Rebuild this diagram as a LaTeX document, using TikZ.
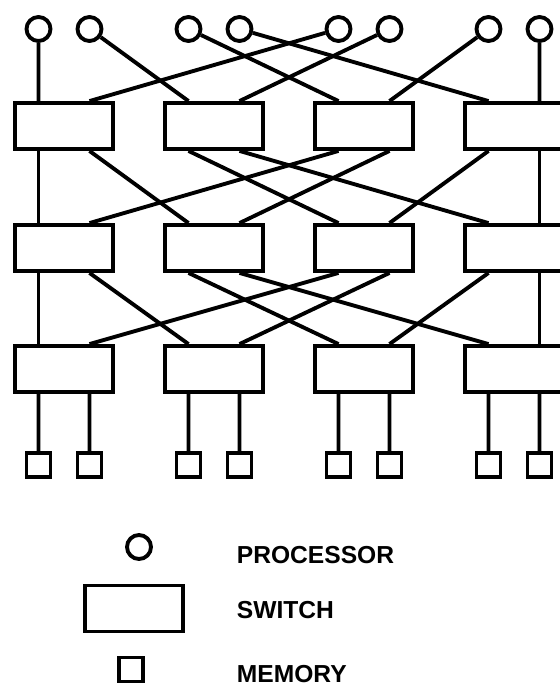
\documentclass[tikz,border=0pt]{standalone}
\usepackage{fontspec}
\setmainfont{Liberation Sans}
\begin{document}
\begin{tikzpicture}[
    x=0.02cm, y=-0.02cm,
    line width=2.2pt,
    proc/.style={
        draw, circle,
        minimum size=0.48cm,
        inner sep=0pt
    },
    switchbox/.style={
        draw,
        minimum width=1.96cm,
        minimum height=0.92cm,
        inner sep=0pt
    },
    membox/.style={draw, minimum size=0.48cm, inner sep=0pt},
    legendlabel/.style={font=\fontsize{14}{16}\selectfont\bfseries, anchor=west, inner sep=0pt}
]

% Frame of the picture (right column runs off the edge)
\useasboundingbox (0,0) rectangle (560,685);
\clip (0,0) rectangle (560,685);

% Processors
\node[proc] (p1) at (38.5,29) {};
\node[proc] (p2) at (89.5,29) {};
\node[proc] (p3) at (188.5,29) {};
\node[proc] (p4) at (239.5,29) {};
\node[proc] (p5) at (338.5,29) {};
\node[proc] (p6) at (389.5,29) {};
\node[proc] (p7) at (488.5,29) {};
\node[proc] (p8) at (539.5,29) {};

% Switches, three stages
\node[switchbox] (s11) at (64,126) {};
\node[switchbox] (s12) at (214,126) {};
\node[switchbox] (s13) at (364,126) {};
\node[switchbox] (s14) at (514,126) {};
\node[switchbox] (s21) at (64,248) {};
\node[switchbox] (s22) at (214,248) {};
\node[switchbox] (s23) at (364,248) {};
\node[switchbox] (s24) at (514,248) {};
\node[switchbox] (s31) at (64,369) {};
\node[switchbox] (s32) at (214,369) {};
\node[switchbox] (s33) at (364,369) {};
\node[switchbox] (s34) at (514,369) {};

% Memories
\node[membox] (m1) at (38.5,465) {};
\node[membox] (m2) at (89.5,465) {};
\node[membox] (m3) at (188.5,465) {};
\node[membox] (m4) at (239.5,465) {};
\node[membox] (m5) at (338.5,465) {};
\node[membox] (m6) at (389.5,465) {};
\node[membox] (m7) at (488.5,465) {};
\node[membox] (m8) at (539.5,465) {};

% Processors to first stage (perfect shuffle)
\draw (p1) -- ([xshift=-0.51cm]s11.north);
\draw (p2) -- ([xshift=-0.51cm]s12.north);
\draw (p3) -- ([xshift=-0.51cm]s13.north);
\draw (p4) -- ([xshift=-0.51cm]s14.north);
\draw (p5) -- ([xshift=0.51cm]s11.north);
\draw (p6) -- ([xshift=0.51cm]s12.north);
\draw (p7) -- ([xshift=0.51cm]s13.north);
\draw (p8) -- ([xshift=0.51cm]s14.north);

% First to second stage
\draw ([xshift=-0.51cm]s11.south) -- ([xshift=-0.51cm]s21.north);
\draw ([xshift=0.51cm]s11.south) -- ([xshift=-0.51cm]s22.north);
\draw ([xshift=-0.51cm]s12.south) -- ([xshift=-0.51cm]s23.north);
\draw ([xshift=0.51cm]s12.south) -- ([xshift=-0.51cm]s24.north);
\draw ([xshift=-0.51cm]s13.south) -- ([xshift=0.51cm]s21.north);
\draw ([xshift=0.51cm]s13.south) -- ([xshift=0.51cm]s22.north);
\draw ([xshift=-0.51cm]s14.south) -- ([xshift=0.51cm]s23.north);
\draw ([xshift=0.51cm]s14.south) -- ([xshift=0.51cm]s24.north);

% Second to third stage
\draw ([xshift=-0.51cm]s21.south) -- ([xshift=-0.51cm]s31.north);
\draw ([xshift=0.51cm]s21.south) -- ([xshift=-0.51cm]s32.north);
\draw ([xshift=-0.51cm]s22.south) -- ([xshift=-0.51cm]s33.north);
\draw ([xshift=0.51cm]s22.south) -- ([xshift=-0.51cm]s34.north);
\draw ([xshift=-0.51cm]s23.south) -- ([xshift=0.51cm]s31.north);
\draw ([xshift=0.51cm]s23.south) -- ([xshift=0.51cm]s32.north);
\draw ([xshift=-0.51cm]s24.south) -- ([xshift=0.51cm]s33.north);
\draw ([xshift=0.51cm]s24.south) -- ([xshift=0.51cm]s34.north);

% Third stage to memories
\draw ([xshift=-0.51cm]s31.south) -- (m1);
\draw ([xshift=0.51cm]s31.south) -- (m2);
\draw ([xshift=-0.51cm]s32.south) -- (m3);
\draw ([xshift=0.51cm]s32.south) -- (m4);
\draw ([xshift=-0.51cm]s33.south) -- (m5);
\draw ([xshift=0.51cm]s33.south) -- (m6);
\draw ([xshift=-0.51cm]s34.south) -- (m7);
\draw ([xshift=0.51cm]s34.south) -- (m8);

% Legend
\node[proc] (keyproc) at (139,547) {};
\node[switchbox] (keyswitch) at (134,608.5) {};
\node[membox] (keymem) at (131,669.5) {};
\node[legendlabel] (procname) at (235,555) {PROCESSOR};
\node[legendlabel] (switchname) at (235,610) {SWITCH};
\node[legendlabel] (memname) at (235,674) {MEMORY};

\end{tikzpicture}
\end{document}
